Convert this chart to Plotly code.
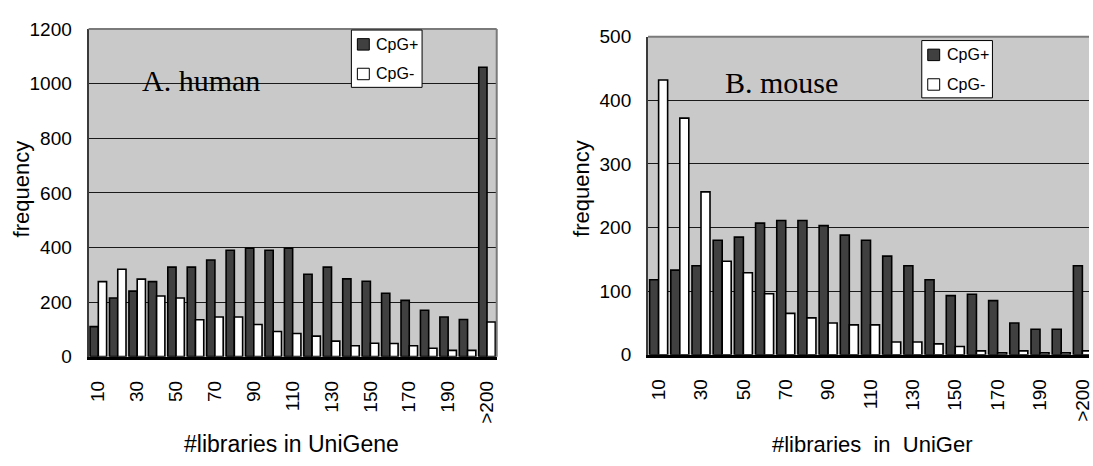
import plotly.graph_objects as go

# Number of UniGene libraries (bins of 10, last bin open-ended)
categories = [str(v) for v in range(10, 210, 10)] + [">200"]
tick_labels = categories[::2]

# Human: genes with / without CpG island
human_cpg_pos = [110, 215, 240, 275, 328, 328, 354, 390, 397, 390, 397,
                 302, 328, 285, 276, 232, 206, 170, 145, 136, 1060]
human_cpg_neg = [275, 320, 284, 222, 215, 135, 145, 145, 118, 92, 85,
                 75, 57, 40, 49, 48, 40, 31, 23, 23, 127]

# Mouse: genes with / without CpG island
mouse_cpg_pos = [118, 133, 140, 180, 185, 207, 211, 211, 203, 188, 180,
                 155, 140, 118, 93, 95, 85, 50, 40, 40, 140]
mouse_cpg_neg = [432, 372, 256, 147, 129, 96, 65, 58, 50, 47, 47,
                 20, 20, 17, 13, 6, 3, 6, 3, 3, 6]

series_names = ["CpG+", "CpG-"]
series_fill = ["#404040", "white"]

W, H = 1093, 466
PLOT_BG = "#c9c9c9"
SANS = "Liberation Sans, Arial, sans-serif"
SERIF = "Liberation Serif, Times New Roman, serif"


def px(x):
    return x / W


def py(y):
    return 1 - y / H


# Pixel boxes of the two plot areas (the mouse one runs past the page edge)
left = dict(x0=88, x1=498, top=20, bot=363)
right = dict(x0=650, x1=1097, top=28, bot=361)
right_cat_w = (right["x1"] - right["x0"]) / len(categories)
right_range_end = -0.5 + (W - right["x0"]) / right_cat_w

fig = go.Figure()

panels = [
    dict(xa="x", ya="y", values=[human_cpg_pos, human_cpg_neg]),
    dict(xa="x2", ya="y2", values=[mouse_cpg_pos, mouse_cpg_neg]),
]
for p in panels:
    for name, fill, vals in zip(series_names, series_fill, p["values"]):
        fig.add_trace(go.Bar(
            x=categories, y=vals, name=name, xaxis=p["xa"], yaxis=p["ya"],
            showlegend=False,
            marker=dict(color=fill, line=dict(color="black", width=1.6)),
        ))

tick_font = dict(family=SANS, size=19, color="black")

xaxis_common = dict(
    type="category",
    categoryorder="array",
    categoryarray=categories,
    tickmode="array",
    tickvals=tick_labels,
    ticktext=tick_labels,
    tickangle=-90,
    tickfont=tick_font,
    ticklabelstandoff=14,
    showgrid=False,
    showline=True,
    linecolor="black",
    linewidth=2.5,
    ticks="",
)
yaxis_common = dict(
    tickfont=tick_font,
    ticklabelstandoff=11,
    showgrid=True,
    gridcolor="#1a1a1a",
    gridwidth=1,
    zeroline=False,
    showline=True,
    linecolor="#3a3a3a",
    linewidth=2,
    ticks="",
)

fig.update_layout(
    width=W, height=H,
    margin=dict(l=0, r=0, t=0, b=0),
    paper_bgcolor="white",
    plot_bgcolor=PLOT_BG,
    barmode="group",
    bargap=0.15,
    bargroupgap=0.0,
    showlegend=False,
    xaxis=dict(xaxis_common, domain=[px(left["x0"]), px(left["x1"])],
               range=[-0.5, len(categories) - 0.5], anchor="y"),
    yaxis=dict(yaxis_common, domain=[py(left["bot"]), py(left["top"])],
               range=[0, 1200], dtick=200, anchor="x"),
    xaxis2=dict(xaxis_common, domain=[px(right["x0"]), 1.0],
                range=[-0.5, right_range_end], anchor="y2"),
    yaxis2=dict(yaxis_common, domain=[py(right["bot"]), py(right["top"])],
                range=[0, 500], dtick=100, anchor="x2"),
)

# Plot-area frame: top edge, plus the right edge of the human panel
frame = dict(color="#7a7a7a", width=2)
fig.add_shape(type="line", xref="paper", yref="paper",
              x0=px(left["x0"]), x1=px(left["x1"]),
              y0=py(left["top"]), y1=py(left["top"]), line=frame)
fig.add_shape(type="line", xref="paper", yref="paper",
              x0=px(left["x1"]), x1=px(left["x1"]),
              y0=py(left["top"]), y1=py(left["bot"]), line=frame)
fig.add_shape(type="line", xref="paper", yref="paper",
              x0=px(right["x0"]), x1=1.0,
              y0=py(right["top"]), y1=py(right["top"]), line=frame)


def add_legend_box(bx, by, bw=71, bh=60):
    """Boxed legend with square swatches, one row per series."""
    fig.add_shape(type="rect", xref="paper", yref="paper",
                  x0=px(bx), x1=px(bx + bw), y0=py(by), y1=py(by + bh),
                  fillcolor="white", line=dict(color="black", width=1))
    for i, (name, fill) in enumerate(zip(series_names, series_fill)):
        cy = by + 15 + 31 * i
        fig.add_shape(type="rect", xref="paper", yref="paper",
                      x0=px(bx + 6), x1=px(bx + 18),
                      y0=py(cy - 6), y1=py(cy + 6),
                      fillcolor=fill, line=dict(color="black", width=1))
        fig.add_annotation(xref="paper", yref="paper", showarrow=False,
                           text=name, x=px(bx + 23), y=py(cy),
                           xanchor="left", yanchor="middle",
                           font=dict(family=SANS, size=16, color="black"))


add_legend_box(352, 21)
add_legend_box(925, 32)

# Panel titles and axis titles
annotations = [
    dict(text="A. human", x=px(140), y=py(74), xanchor="left", yanchor="middle",
         font=dict(family=SERIF, size=30, color="black")),
    dict(text="B. mouse", x=px(725), y=py(76), xanchor="left", yanchor="middle",
         font=dict(family=SERIF, size=30, color="black")),
    dict(text="frequency", x=px(21), y=py(187), textangle=-90,
         xanchor="center", yanchor="middle",
         font=dict(family=SANS, size=22, color="black")),
    dict(text="frequency", x=px(583), y=py(187), textangle=-90,
         xanchor="center", yanchor="middle",
         font=dict(family=SANS, size=22, color="black")),
    dict(text="#libraries in UniGene", x=px(292), y=py(455),
         xanchor="center", yanchor="middle",
         font=dict(family=SANS, size=23, color="black")),
    dict(text="#libraries  in  UniGer", x=px(876), y=py(455),
         xanchor="center", yanchor="middle",
         font=dict(family=SANS, size=22, color="black")),
]
for a in annotations:
    fig.add_annotation(xref="paper", yref="paper", showarrow=False, **a)

fig.write_html("out.html")
